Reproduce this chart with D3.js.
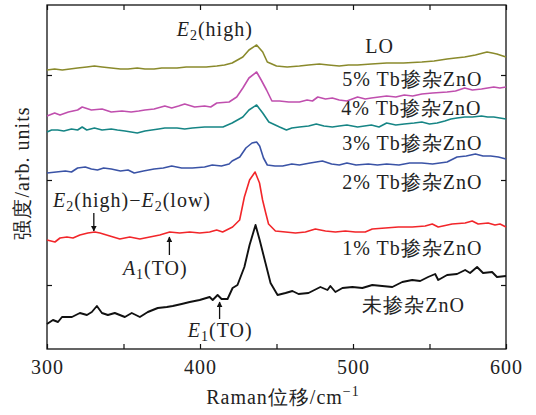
<!DOCTYPE html>
<html>
<head>
<meta charset="utf-8">
<script src="https://cdn.jsdelivr.net/npm/d3@7"></script>
<style>
  body { margin: 0; background: #fff; }
</style>
</head>
<body>
<script>
// Raman shift (cm^-1), intensity (arb. units, curves offset)
const undoped = [
  [300,25],[303.9,29],[307.2,27],[309.8,32],[316.3,32],[321.5,36],[326.1,34],[329.3,37],
  [332.6,43],[335.9,36],[339.8,34],[344.3,36],[350.9,32],[355.4,36],[360.7,32],[365.9,37],
  [372.4,41],[378.3,42],[382.2,43],[388,45],[393.3,47],[399.8,49],[406.3,52],[408.3,49],
  [411.5,54],[414.1,50],[418,50],[421.3,61],[424.5,64],[429,82],[432.4,104],[436.3,124],
  [439,109],[442.8,86],[446.1,66],[450.7,54],[455.9,56],[460.4,58],[464.4,55],[470.9,56],
  [478.7,62],[483.3,59],[485.2,63],[488.5,57],[493.1,61],[499.6,62],[506.1,61],[512.6,64],
  [519.1,63],[525.7,62],[532.2,67],[538.7,69],[543.9,68],[549.1,72],[553.7,75],[555.7,69],
  [561.5,74],[568,75],[573.3,79],[576.5,76],[581.1,82],[585,76],[590.9,77],[594.1,72],[600,73]
];
const tb1 = [
  [300,109],[305.2,107],[308.5,111],[313,112],[317,111],[321.5,114],[326.7,116],[331.3,117],
  [334.6,116],[341.1,113],[347.6,110],[354.1,112],[360.7,110],[367.2,112],[373.7,114],
  [380.2,117],[386.7,116],[393.3,117],[399.8,116],[406.3,117],[410.9,119],[414.8,117],
  [421.3,122],[425.9,129],[429,152],[432.4,169],[436,177],[438.9,166],[440.9,149],
  [442.8,137],[444.8,125],[449.3,118],[455.9,117],[462.4,116],[468.9,117],[475.4,120],
  [482,118],[488.5,117],[495,118],[501.5,117],[508,117],[512.6,120],[521.1,121],[529.6,122],
  [538.7,122],[547.2,123],[551.8,125],[555.7,122],[564.8,125],[573.3,126],[577.9,128],
  [581.8,125],[588.3,126],[592.8,124],[596.1,125],[600,122]
];
const tb2 = [
  [300,176],[306,177],[312,178],[316,177],[320,181],[325,182],[329,180],[333,179],[337,181],
  [342,180],[348,178],[353,179],[357,176],[363,178],[370,180],[376,181],[381.5,183],[388,181],
  [395,181],[403,182],[408,184],[414,183],[419,185],[421,188],[426,192],[430,201],[434,206],
  [437,207],[439,203],[441.5,191],[444,184],[449,183],[454,183],[460,185],[465,184],[472,186],
  [480,188],[486,185],[491,184],[496,186],[502,184],[510,185],[516,184],[522,185],[530,184],
  [537,186],[545,186],[552,185],[561.5,187],[568,192],[574,193],[580,195],[585,193],[590,193],
  [595,192],[600,190]
];
const tb3 = [
  [300,217],[303,219],[307,219],[311,218],[316,220],[320,219],[323,222],[326,219],[331,221],
  [336,219],[342,220],[346,219],[351,218],[355,217],[359,216],[364,218],[368.5,219],[373,220],
  [377,221],[385,221],[390,220],[395,221],[403,222],[408,222],[415,222],[421,226],[428,232],
  [432,239],[437,244],[441,236],[445,227],[452,222],[456.5,219],[460,221],[465,222],[471,223],
  [476,225],[481,223],[486.5,222],[491,223],[496,224],[503,222],[512,224],[517,222],[522,226],
  [528,224],[533.5,225],[540,226],[545,227],[550,225],[555,226],[560,228],[564,230],[568,231],
  [573,232],[578,232],[584,233],[588,232],[592,232],[596,231],[600,230]
];
const tb4 = [
  [300,233],[305,236],[308.5,234],[314,237],[320,239],[323,242],[329,239],[336,240],[342,237],
  [349,238],[355,237],[360,238],[364,239],[370,240],[377,243],[381.5,241],[386,243],[390,245],
  [396.5,242],[403,243],[407,242],[411,246],[419,247],[424,252],[428,261],[432,271],[437,277],
  [440,269],[443.5,259],[447,248],[452,248],[458,247],[465,247],[470,249],[473.5,248],[477,252],
  [482,250],[486.5,251],[491,249],[496,248],[503,252],[508,250],[512,251],[517,252],[522,253],
  [528,252],[533.5,254],[539,253],[545,255],[552,256],[561.5,257],[567,258],[573,261],[578,259],
  [584,260],[588,261],[592,262],[596,261],[600,262]
];
const tb5 = [
  [300,279],[305,280],[310,279],[315,280],[320,281],[326,282],[331,283],[336,282],[342,281],
  [348,280],[353,280],[359,281],[364,280],[370,280],[375,281],[385,281],[391,282],[396.5,282],
  [404,282],[411,283],[416,284],[421,286],[428,292],[432,299],[437,304],[441,297],[444,287],
  [450,283],[457,282],[465,283],[471,284],[478,285],[484,284],[491,283],[497,284],[503,284],
  [512,285],[522,286],[533,286],[545,287],[553,288],[561.5,290],[567,291],[573,292],[580,294],
  [587.6,297],[591,296],[594,295],[600,292]
];

const seriesData   = [undoped, tb1, tb2, tb3, tb4, tb5];
const seriesColors = ["#111111", "#f2262a", "#3a53a6", "#168585", "#c04fae", "#8a8a2c"];
const seriesWidths = [1.9, 1.6, 1.6, 1.6, 1.6, 1.6];

const xTicks = [300, 350, 400, 450, 500, 550, 600];
const xTickLabels = [300, 400, 500, 600];
const yTicks = [64, 169, 274];

// labels: text parts, shift, intensity
const labels = [
  {parts: [["E", "i"], ["2", "sub"], ["(high)"]], x: 384.8, y: 313},
  {parts: [["LO"]], x: 508, y: 296},
  {parts: [["5% Tb掺杂ZnO"]], x: 493, y: 263},
  {parts: [["4% Tb掺杂ZnO"]], x: 492.4, y: 234},
  {parts: [["3% Tb掺杂ZnO"]], x: 493, y: 199},
  {parts: [["2% Tb掺杂ZnO"]], x: 493, y: 160},
  {parts: [["1% Tb掺杂ZnO"]], x: 493, y: 94},
  {parts: [["未掺杂ZnO"]], x: 506, y: 37},
  {parts: [["E", "i"], ["2", "sub"], ["(high)\u2212"], ["E", "i"], ["2", "sub"], ["(low)"]], x: 304, y: 142},
  {parts: [["A", "i"], ["1", "sub"], ["(TO)"]], x: 349.6, y: 74},
  {parts: [["E", "i"], ["1", "sub"], ["(TO)"]], x: 392, y: 12}
];
// arrows: shift, from intensity, to intensity (head at "to")
const arrows = [[330.6, 136, 118], [380, 94, 112], [412.8, 30, 47]];

const W = 536, H = 415;
const x = d3.scaleLinear().domain([300, 600]).range([47, 506]);
const y = d3.scaleLinear().domain([0, 344]).range([349, 5]);

const svg = d3.select("body").append("svg")
    .attr("width", W)
    .attr("height", H);

const fs = 20;
const serif = "'Liberation Serif'";
const ls = 1;

// axes with inward ticks
svg.append("g")
    .attr("transform", `translate(0,${y(0)})`)
    .call(d3.axisBottom(x).tickValues(xTicks).tickSizeInner(-5).tickSizeOuter(0).tickPadding(10.5)
      .tickFormat(d => xTickLabels.includes(d) ? d : ""))
    .call(g => g.select(".domain").remove());
svg.append("g")
    .attr("transform", `translate(0,${y(344)})`)
    .call(d3.axisTop(x).tickValues(xTicks).tickSizeInner(-5).tickSizeOuter(0).tickFormat(""))
    .call(g => g.select(".domain").remove());
svg.append("g")
    .attr("transform", `translate(${x(300)},0)`)
    .call(d3.axisLeft(y).tickValues(yTicks).tickSizeInner(-5).tickSizeOuter(0).tickFormat(""))
    .call(g => g.select(".domain").remove());
svg.append("g")
    .attr("transform", `translate(${x(600)},0)`)
    .call(d3.axisRight(y).tickValues(yTicks).tickSizeInner(-5).tickSizeOuter(0).tickFormat(""))
    .call(g => g.select(".domain").remove());

svg.selectAll("g").attr("font-family", serif).attr("font-size", fs);
svg.selectAll(".tick line").attr("stroke", "#111").attr("stroke-width", 1.2);
svg.selectAll(".tick text")
    .attr("letter-spacing", ls)
    .attr("fill", "#222");

svg.append("rect")
    .attr("x", x(300)).attr("y", y(344))
    .attr("width", x(600) - x(300)).attr("height", y(0) - y(344))
    .attr("fill", "none").attr("stroke", "#111").attr("stroke-width", 1.3);

// spectra
const line = d3.line()
    .x(d => x(d[0]))
    .y(d => y(d[1]));

svg.selectAll(".spec")
  .data(seriesData)
  .enter()
    .append("path")
    .attr("class", "spec")
    .attr("d", line)
    .attr("fill", "none")
    .attr("stroke", (d, i) => seriesColors[i])
    .attr("stroke-width", (d, i) => seriesWidths[i])
    .attr("stroke-linejoin", "round");

// labels
labels.forEach(l => {
  const t = svg.append("text")
      .attr("x", x(l.x))
      .attr("y", y(l.y))
      .attr("font-family", serif)
      .attr("font-size", fs)
      .attr("fill", "#222")
      .attr("letter-spacing", ls);
  let shifted = false;
  l.parts.forEach(p => {
    const s = t.append("tspan").text(p[0]);
    if (p[1] === "i") s.attr("font-style", "italic");
    if (p[1] === "sub") {
      s.attr("dy", 4).attr("font-size", 14);
      shifted = true;
    } else if (shifted) {
      s.attr("dy", -4);
      shifted = false;
    }
  });
});

// arrows
svg.append("defs").append("marker")
    .attr("id", "head")
    .attr("viewBox", "0 0 10 10")
    .attr("refX", 9).attr("refY", 5)
    .attr("markerWidth", 6).attr("markerHeight", 6)
    .attr("markerUnits", "userSpaceOnUse")
    .attr("orient", "auto")
  .append("path")
    .attr("d", "M0,0 L10,5 L0,10 Z")
    .attr("fill", "#111");

svg.selectAll(".arrow")
  .data(arrows)
  .enter()
    .append("line")
    .attr("x1", d => x(d[0])).attr("x2", d => x(d[0]))
    .attr("y1", d => y(d[1])).attr("y2", d => y(d[2]))
    .attr("stroke", "#111")
    .attr("stroke-width", 1.3)
    .attr("marker-end", "url(#head)");

// axis titles
svg.append("text")
    .attr("x", 283).attr("y", 404)
    .attr("text-anchor", "middle")
    .attr("font-family", serif)
    .attr("font-size", fs)
    .attr("fill", "#222")
    .attr("letter-spacing", ls)
    .call(t => {
      t.append("tspan").text("Raman位移/cm");
      t.append("tspan").text("\u22121").attr("dy", -8).attr("font-size", 14);
    });

svg.append("text")
    .attr("transform", "translate(29,173) rotate(-90)")
    .attr("text-anchor", "middle")
    .attr("font-family", serif)
    .attr("font-size", fs)
    .attr("fill", "#222")
    .attr("letter-spacing", ls)
    .text("强度/arb. units");
</script>
</body>
</html>
